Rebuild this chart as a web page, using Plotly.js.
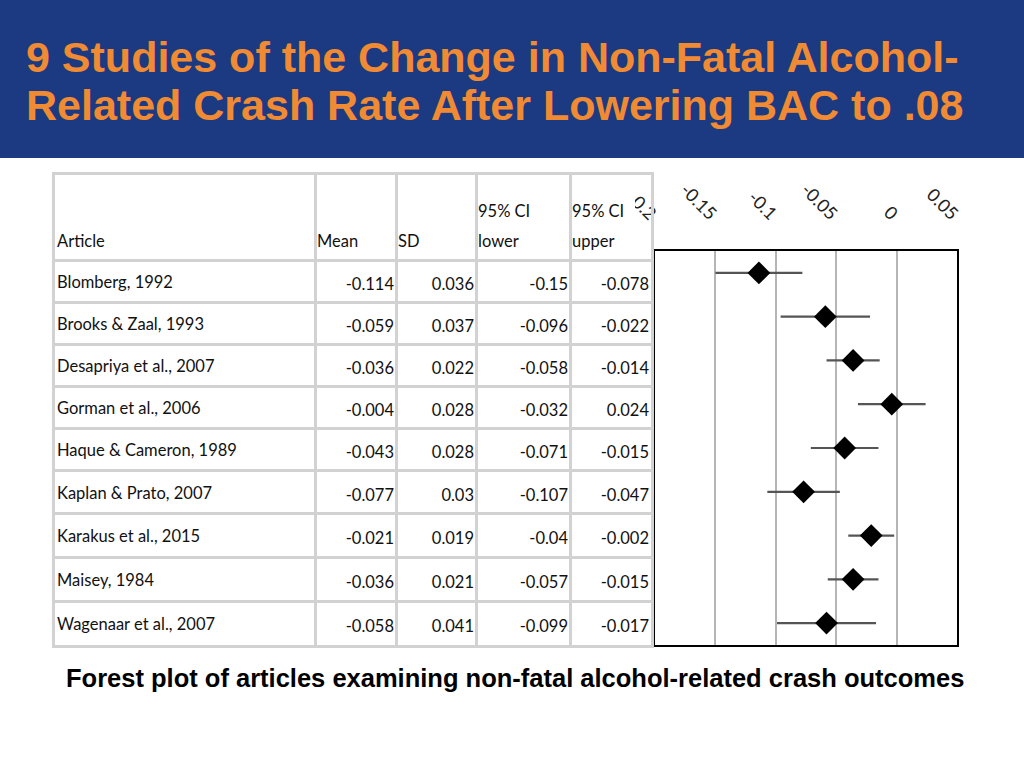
<!DOCTYPE html>
<html>
<head>
<meta charset="utf-8">
<script src="https://cdn.plot.ly/plotly-3.0.1.min.js"></script>
<style>
  html, body { margin: 0; padding: 0; background: #ffffff; }
  #chart { width: 1024px; height: 768px; }
</style>
</head>
<body>
<div id="chart"></div>
<script>
// ---- Data ----
const articles = [
  "Blomberg, 1992",
  "Brooks & Zaal, 1993",
  "Desapriya et al., 2007",
  "Gorman et al., 2006",
  "Haque & Cameron, 1989",
  "Kaplan & Prato, 2007",
  "Karakus et al., 2015",
  "Maisey, 1984",
  "Wagenaar et al., 2007"
];
const means   = [-0.114, -0.059, -0.036, -0.004, -0.043, -0.077, -0.021, -0.036, -0.058];
const sds     = [0.036, 0.037, 0.022, 0.028, 0.028, 0.03, 0.019, 0.021, 0.041];
const ciLower = [-0.15, -0.096, -0.058, -0.032, -0.071, -0.107, -0.04, -0.057, -0.099];
const ciUpper = [-0.078, -0.022, -0.014, 0.024, -0.015, -0.047, -0.002, -0.015, -0.017];
const headerLine1 = ["", "", "", "95% CI", "95% CI"];
const headerLine2 = ["Article", "Mean", "SD", "lower", "upper"];
const tickVals = [-0.2, -0.15, -0.1, -0.05, 0, 0.05];
const tickText = ["-0.2", "-0.15", "-0.1", "-0.05", "0", "0.05"];
const titleLine1 = "9 Studies of the Change in Non-Fatal Alcohol-";
const titleLine2 = "Related Crash Rate After Lowering BAC to .08";
const captionText = "Forest plot of articles examining non-fatal alcohol-related crash outcomes";

// ---- Layout helpers (geometry only) ----
const W = 1024, H = 768;
const px = x => x / W;
const py = y => 1 - y / H;
const tableFont = "Lato, 'Open Sans', sans-serif";
const tableSize = 16.5;

// table geometry in table-axis units (pixels inside the table box)
const colEdges = [0, 260, 341, 421, 515, 596];
const headerH = 85;
const rowEdges = [0, 85, 127, 169, 211, 253, 295, 338, 382, 426, 470];
const pad = 2;

const fmt = v => String(v);
const numCols = [means, sds, ciLower, ciUpper];
const rowCenter = i => (rowEdges[i + 1] + rowEdges[i + 2]) / 2;
const tfont = { family: tableFont, size: tableSize, color: "#111111" };

const traces = [];

// header text
traces.push({
  type: "scatter", mode: "text", xaxis: "x2", yaxis: "y2",
  x: colEdges.slice(0, 5).map(e => e + pad),
  y: headerLine1.map(() => headerH - 47),
  text: headerLine1, textposition: "middle right", textfont: tfont,
  hoverinfo: "skip", showlegend: false
});
traces.push({
  type: "scatter", mode: "text", xaxis: "x2", yaxis: "y2",
  x: colEdges.slice(0, 5).map(e => e + pad),
  y: headerLine2.map(() => headerH - 17),
  text: headerLine2, textposition: "middle right", textfont: tfont,
  hoverinfo: "skip", showlegend: false
});
// article names
traces.push({
  type: "scatter", mode: "text", xaxis: "x2", yaxis: "y2",
  x: articles.map(() => colEdges[0] + pad),
  y: articles.map((_, i) => rowCenter(i) + 3),
  text: articles, textposition: "middle right", textfont: tfont,
  hoverinfo: "skip", showlegend: false
});
// numeric columns (right aligned)
numCols.forEach((col, c) => {
  traces.push({
    type: "scatter", mode: "text", xaxis: "x2", yaxis: "y2",
    x: col.map(() => colEdges[c + 2] - pad),
    y: col.map((_, i) => rowCenter(i) + 5),
    text: col.map(fmt), textposition: "middle left", textfont: tfont,
    hoverinfo: "skip", showlegend: false
  });
});

// forest plot
traces.push({
  type: "scatter",
  mode: "markers",
  x: means,
  y: articles.map((_, i) => i),
  marker: { symbol: "diamond", size: 17.5, color: "#000000" },
  error_x: {
    type: "data",
    symmetric: false,
    array: ciUpper.map((u, i) => u - means[i]),
    arrayminus: ciLower.map((l, i) => means[i] - l),
    thickness: 2.2,
    width: 0,
    color: "#555555"
  },
  hoverinfo: "skip",
  showlegend: false
});

const gridGray = "#d2d2d2";
const titleFont = { family: "'Liberation Sans', Arial, sans-serif", size: 43, color: "#f08a33", weight: "bold" };

const layout = {
  width: W, height: H,
  margin: { l: 0, r: 0, t: 0, b: 0 },
  paper_bgcolor: "#ffffff",
  plot_bgcolor: "#ffffff",
  showlegend: false,
  xaxis: {
    domain: [px(655), px(957)],
    range: [-0.2, 0.05],
    side: "top",
    tickmode: "array",
    tickvals: tickVals,
    ticktext: tickText,
    tickangle: 45,
    ticks: "outside",
    ticklen: 18,
    tickcolor: "rgba(0,0,0,0)",
    tickfont: { family: tableFont, size: 18, color: "#222222" },
    showgrid: true,
    gridcolor: "#b5b5b5",
    gridwidth: 2,
    zeroline: false,
    showline: true,
    linecolor: "#000000",
    linewidth: 2,
    mirror: true,
    fixedrange: true
  },
  yaxis: {
    domain: [py(645), py(251)],
    range: [8.5, -0.5],
    showticklabels: false,
    showgrid: false,
    zeroline: false,
    showline: true,
    linecolor: "#000000",
    linewidth: 2,
    mirror: true,
    fixedrange: true
  },
  xaxis2: {
    domain: [px(55), px(651)],
    anchor: "y2",
    range: [colEdges[0], colEdges[colEdges.length - 1]],
    tickmode: "array",
    tickvals: colEdges,
    showticklabels: false,
    ticks: "",
    showgrid: true,
    gridcolor: gridGray,
    gridwidth: 3,
    zeroline: false,
    showline: true,
    linecolor: gridGray,
    linewidth: 3,
    mirror: true,
    fixedrange: true
  },
  yaxis2: {
    domain: [py(645), py(175)],
    anchor: "x2",
    range: [rowEdges[rowEdges.length - 1], rowEdges[0]],
    tickmode: "array",
    tickvals: rowEdges,
    showticklabels: false,
    ticks: "",
    showgrid: true,
    gridcolor: gridGray,
    gridwidth: 3,
    zeroline: false,
    showline: true,
    linecolor: gridGray,
    linewidth: 3,
    mirror: true,
    fixedrange: true
  },
  shapes: [
    { type: "rect", xref: "paper", yref: "paper", x0: 0, x1: 1, y0: py(158), y1: 1,
      fillcolor: "#1b3a82", line: { width: 0 }, layer: "below" },
    // the table's header cell overlaps the first tick label, hiding its minus sign
    { type: "rect", xref: "paper", yref: "paper", x0: px(626), x1: px(635), y0: py(212), y1: py(180),
      fillcolor: "#ffffff", line: { width: 0 }, layer: "above" }
  ],
  annotations: [
    { xref: "paper", yref: "paper", x: px(24), y: py(57), xanchor: "left", yanchor: "middle",
      text: titleLine1, showarrow: false, align: "left", font: titleFont },
    { xref: "paper", yref: "paper", x: px(24), y: py(105), xanchor: "left", yanchor: "middle",
      text: titleLine2, showarrow: false, align: "left", font: titleFont },
    { xref: "paper", yref: "paper", x: px(515), y: py(678), xanchor: "center", yanchor: "middle",
      text: "<b>" + captionText + "</b>", showarrow: false,
      font: { family: "'Liberation Sans', Arial, sans-serif", size: 25.5, color: "#000000" } }
  ]
};

Plotly.newPlot("chart", traces, layout, { displayModeBar: false, staticPlot: true });
</script>
</body>
</html>
